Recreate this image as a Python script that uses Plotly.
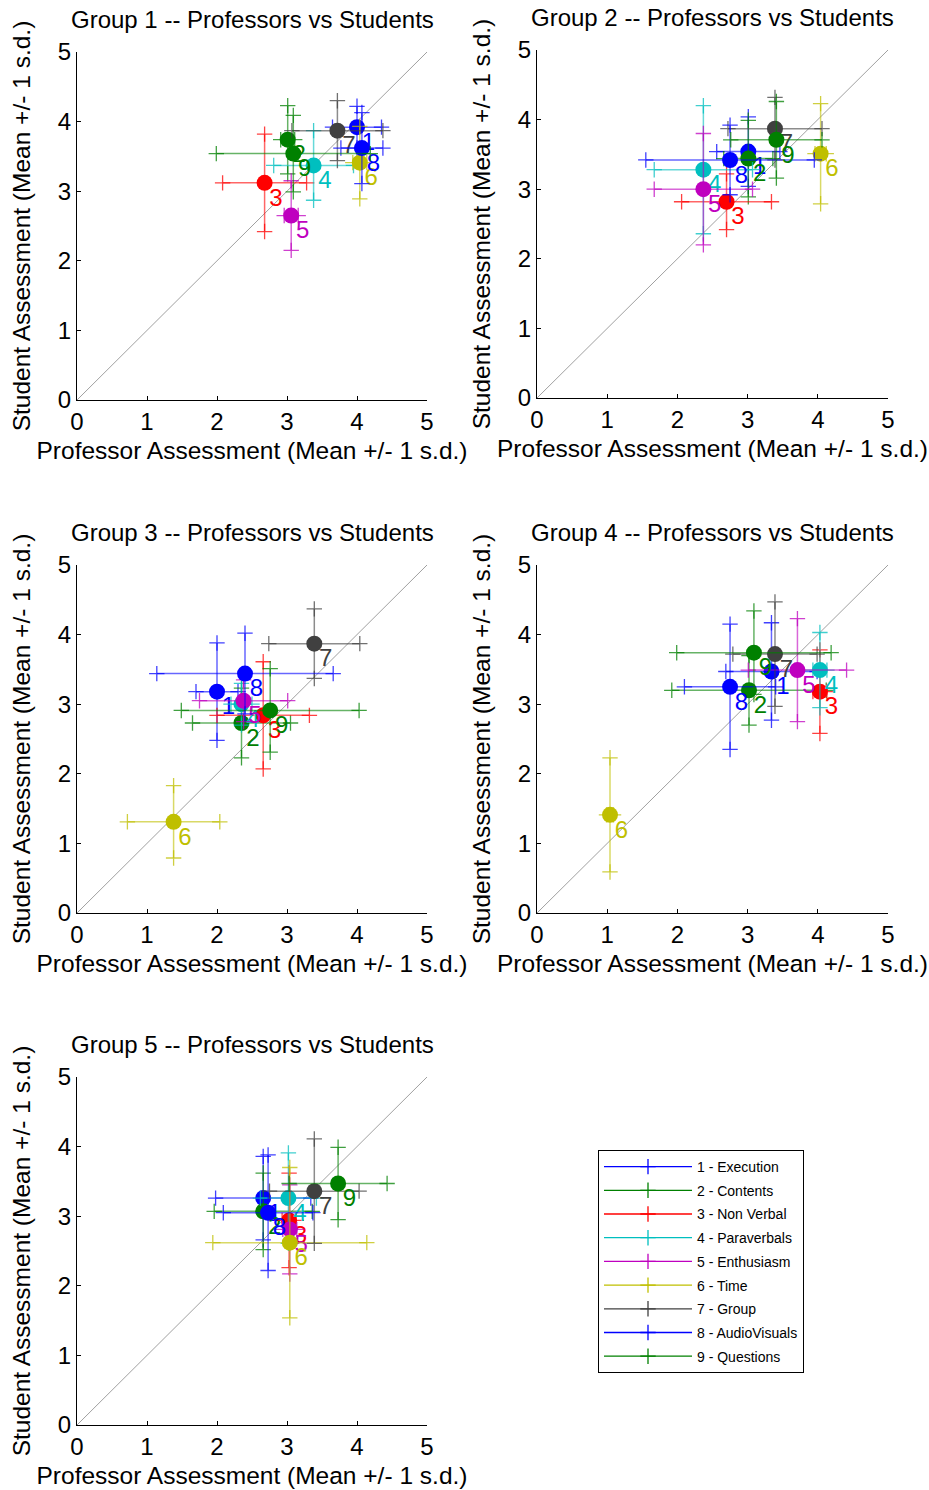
import plotly.graph_objects as go

# ---------------- data ----------------
item_names = ["Execution", "Contents", "Non Verbal", "Paraverbals", "Enthusiasm",
              "Time", "Group", "AudioVisuals", "Questions"]
item_colors = ["#0000ff", "#008000", "#ff0000", "#00bfbf", "#bf00bf",
               "#bfbf00", "#404040", "#0000ff", "#008000"]

g1_prof    = [4.00, 3.01, 2.68, 3.38, 3.06, 4.04, 3.72, 4.07, 3.09]
g1_prof_sd = [0.35, 0.10, 0.60, 0.57, 0.10, 0.10, 0.65, 0.30, 1.10]
g1_stud    = [3.92, 3.74, 3.12, 3.37, 2.65, 3.41, 3.87, 3.62, 3.54]
g1_stud_sd = [0.30, 0.49, 0.70, 0.50, 0.50, 0.52, 0.43, 0.51, 0.55]

g2_prof    = [3.01, 3.01, 2.70, 2.37, 2.37, 4.04, 3.39, 2.75, 3.41]
g2_prof_sd = [0.45, 0.35, 0.64, 0.70, 0.70, 0.08, 0.67, 1.20, 0.65]
g2_stud    = [3.54, 3.44, 2.82, 3.28, 3.00, 3.51, 3.87, 3.42, 3.71]
g2_stud_sd = [0.50, 0.55, 0.40, 0.92, 0.80, 0.72, 0.45, 0.50, 0.55]

g3_prof    = [2.00, 2.35, 2.66, 2.35, 2.38, 1.38, 3.39, 2.40, 2.76]
g3_prof_sd = [0.30, 0.70, 0.66, 0.15, 0.63, 0.66, 0.65, 1.26, 1.27]
g3_stud    = [3.18, 2.73, 2.84, 3.00, 3.05, 1.31, 3.87, 3.44, 2.91]
g3_stud_sd = [0.70, 0.50, 0.77, 0.30, 0.30, 0.52, 0.50, 0.58, 0.60]

g4_prof    = [3.34, 3.02, 4.03, 4.03, 3.71, 1.04, 3.39, 2.75, 3.09]
g4_prof_sd = [0.65, 1.10, 0.10, 0.10, 0.70, 0.05, 0.60, 0.65, 1.10]
g4_stud    = [3.47, 3.20, 3.18, 3.49, 3.49, 1.41, 3.72, 3.25, 3.74]
g4_stud_sd = [0.70, 0.50, 0.60, 0.54, 0.74, 0.82, 0.75, 0.90, 0.60]

g5_prof    = [2.66, 2.66, 3.03, 3.02, 3.04, 3.04, 3.39, 2.73, 3.73]
g5_prof_sd = [0.68, 0.70, 0.10, 0.40, 0.10, 1.10, 0.64, 0.64, 0.70]
g5_stud    = [3.26, 3.07, 2.94, 3.26, 2.81, 2.62, 3.36, 3.05, 3.47]
g5_stud_sd = [0.60, 0.55, 0.68, 0.65, 0.64, 1.08, 0.75, 0.83, 0.52]

groups = [
    (g1_prof, g1_prof_sd, g1_stud, g1_stud_sd),
    (g2_prof, g2_prof_sd, g2_stud, g2_stud_sd),
    (g3_prof, g3_prof_sd, g3_stud, g3_stud_sd),
    (g4_prof, g4_prof_sd, g4_stud, g4_stud_sd),
    (g5_prof, g5_prof_sd, g5_stud, g5_stud_sd),
]
diag = [0, 5]
tick_vals = [0, 1, 2, 3, 4, 5]

# ---------------- layout geometry (pixels) ----------------
W, H = 929, 1490
panels_px = [  # x0, x1, ytop, ybottom
    (77, 427, 52, 400),
    (537, 888, 50, 398),
    (77, 427, 565, 913),
    (537, 888, 565, 913),
    (77, 427, 1077, 1425),
]
FONT = "Liberation Sans, Arial, Helvetica, sans-serif"
FS = 24


def rgba(hexc, a):
    h = hexc.lstrip("#")
    r, g, b = int(h[0:2], 16), int(h[2:4], 16), int(h[4:6], 16)
    return f"rgba({r},{g},{b},{a})"


fig = go.Figure()
layout = dict(
    width=W, height=H,
    margin=dict(l=0, r=0, t=0, b=0, autoexpand=False),
    paper_bgcolor="white", plot_bgcolor="white",
    font=dict(family=FONT, color="black"),
    showlegend=True,
)
annotations = []

for gi, (px, psd, sy, ssd) in enumerate(groups):
    k = gi + 1
    xa = "x" if k == 1 else f"x{k}"
    ya = "y" if k == 1 else f"y{k}"
    x0, x1, yt, yb = panels_px[gi]
    xdom = [x0 / W, x1 / W]
    ydom = [1 - yb / H, 1 - yt / H]
    axis_common = dict(range=[0, 5], tickvals=tick_vals, ticks="inside", ticklen=4,
                       tickwidth=1, tickcolor="black",
                       showline=True, linecolor="black", linewidth=1,
                       showgrid=False, zeroline=False, automargin=False,
                       tickfont=dict(size=FS, family=FONT, color="black"),
                       fixedrange=True)
    layout["xaxis" if k == 1 else f"xaxis{k}"] = dict(
        axis_common, domain=xdom, anchor=ya,
        title=dict(text="Professor Assessment (Mean +/- 1 s.d.)",
                   font=dict(size=24.5, family=FONT), standoff=8))
    layout["yaxis" if k == 1 else f"yaxis{k}"] = dict(
        axis_common, domain=ydom, anchor=xa,
        title=dict(text="Student Assessment (Mean +/- 1 s.d.)",
                   font=dict(size=24.5, family=FONT), standoff=20))

    annotations.append(dict(
        text=f"Group {k} -- Professors vs Students", xref="paper", yref="paper",
        x=(xdom[0] + xdom[1]) / 2, y=ydom[1], xanchor="center", yanchor="bottom",
        yshift=17, showarrow=False, font=dict(size=FS, family=FONT, color="black")))

    # diagonal reference line
    fig.add_trace(go.Scatter(x=diag, y=diag, mode="lines", xaxis=xa, yaxis=ya,
                             line=dict(color="#a0a0a0", width=1),
                             showlegend=False, hoverinfo="skip"))

    for i in range(9):
        col = item_colors[i]
        fig.add_trace(go.Scatter(
            x=[px[i]], y=[sy[i]], mode="markers", xaxis=xa, yaxis=ya,
            marker=dict(size=16, color=col),
            error_x=dict(type="data", array=[psd[i]], width=0, thickness=1.5,
                         color=rgba(col, 0.6)),
            error_y=dict(type="data", array=[ssd[i]], width=0, thickness=1.5,
                         color=rgba(col, 0.6)),
            cliponaxis=False, showlegend=False))
        fig.add_trace(go.Scatter(
            x=[px[i] - psd[i], px[i] + psd[i], px[i], px[i]],
            y=[sy[i], sy[i], sy[i] - ssd[i], sy[i] + ssd[i]],
            mode="markers", xaxis=xa, yaxis=ya,
            marker=dict(symbol="cross-thin", size=11,
                        line=dict(color=rgba(col, 0.75), width=1.3)),
            cliponaxis=False, showlegend=False, hoverinfo="skip"))
        fig.add_trace(go.Scatter(
            x=[px[i]], y=[sy[i]], mode="markers+text", xaxis=xa, yaxis=ya,
            text=[str(i + 1)], textposition="bottom right",
            textfont=dict(size=FS, family=FONT, color=col),
            marker=dict(size=6, color="rgba(0,0,0,0)"),
            cliponaxis=False, showlegend=False, hoverinfo="skip"))

# legend-only entries
for i in range(9):
    col = item_colors[i]
    fig.add_trace(go.Scatter(
        x=[None], y=[None], mode="lines+markers",
        name=f"{i + 1} - {item_names[i]}", legendgroup=f"g{i}",
        line=dict(color=col, width=1.3),
        marker=dict(symbol="cross-thin", size=11, line=dict(color=col, width=1.3))))

layout["legend"] = dict(
    x=598 / W, y=1 - 1150 / H, xanchor="left", yanchor="top",
    bgcolor="white", bordercolor="black", borderwidth=1,
    font=dict(size=14, family=FONT, color="black"),
    tracegroupgap=2.5, itemwidth=88)
layout["annotations"] = annotations
fig.update_layout(**layout)

fig.write_html(
    "out.html",
    config={"displayModeBar": False, "displaylogo": False},
    post_script="document.body.style.margin='0';document.body.style.overflow='hidden';")
